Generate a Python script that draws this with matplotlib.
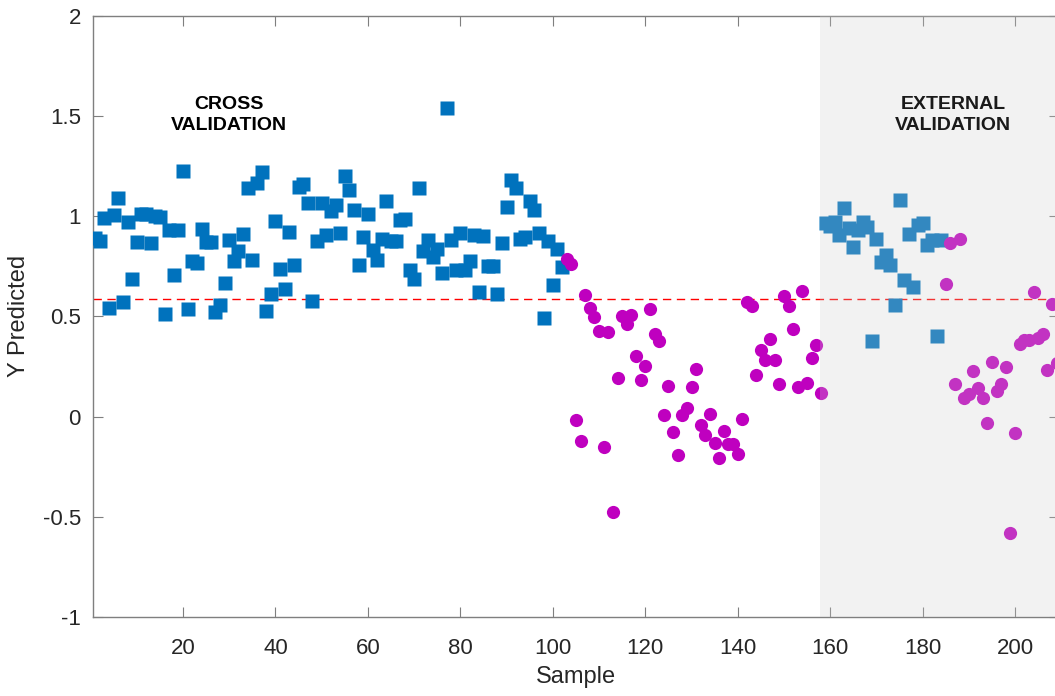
import numpy as np
import matplotlib
matplotlib.use("Agg")
import matplotlib.pyplot as plt

plt.rcParams["font.family"] = ["Liberation Sans", "DejaVu Sans"]

# cross validation: samples 1-102 (blue) and 103-158 (magenta)
cv_blue = [0.89, 0.877, 0.99, 0.543, 1.003, 1.09, 0.571, 0.968, 0.688, 0.868,
           1.01, 1.01, 0.864, 1.0, 0.995, 0.513, 0.928, 0.704, 0.928, 1.227,
           0.535, 0.775, 0.765, 0.937, 0.87, 0.87, 0.521, 0.558, 0.666, 0.88,
           0.774, 0.825, 0.908, 1.141, 0.782, 1.166, 1.222, 0.524, 0.61, 0.975,
           0.737, 0.638, 0.922, 0.757, 1.147, 1.161, 1.064, 0.578, 0.875, 1.066,
           0.903, 1.026, 1.053, 0.913, 1.199, 1.129, 1.031, 0.757, 0.895, 1.008,
           0.83, 0.782, 0.883, 1.076, 0.875, 0.877, 0.982, 0.985, 0.729, 0.688,
           1.139, 0.828, 0.878, 0.795, 0.834, 0.717, 1.538, 0.882, 0.729, 0.917,
           0.729, 0.774, 0.907, 0.621, 0.9, 0.749, 0.749, 0.609, 0.863, 1.043,
           1.182, 1.139, 0.887, 0.897, 1.076, 1.028, 0.917, 0.491, 0.873, 0.658,
           0.837, 0.744]
cv_magenta = [0.787, 0.762, -0.018, -0.123, 0.604, 0.543, 0.496, 0.428, -0.15, 0.42,
              -0.478, 0.191, 0.501, 0.46, 0.505, 0.3, 0.181, 0.252, 0.536, 0.413,
              0.375, 0.006, 0.151, -0.077, -0.193, 0.01, 0.04, 0.147, 0.237, -0.043,
              -0.093, 0.015, -0.13, -0.209, -0.073, -0.135, -0.135, -0.189, -0.01, 0.571,
              0.553, 0.206, 0.33, 0.28, 0.389, 0.284, 0.161, 0.6, 0.55, 0.438,
              0.148, 0.624, 0.168, 0.292, 0.355, 0.115]

# external validation: samples 159-184 (blue) and 185-209 (magenta)
ext_blue = [0.965, 0.95, 0.97, 0.903, 1.041, 0.942, 0.845, 0.932, 0.97, 0.945,
            0.379, 0.887, 0.77, 0.804, 0.754, 0.555, 1.078, 0.683, 0.908, 0.646,
            0.953, 0.965, 0.854, 0.882, 0.402, 0.882]
ext_magenta = [0.663, 0.865, 0.164, 0.887, 0.09, 0.11, 0.227, 0.14, 0.09, -0.032,
               0.272, 0.128, 0.164, 0.247, -0.583, -0.08, 0.364, 0.38, 0.38, 0.621,
               0.392, 0.413, 0.234, 0.56, 0.265]

threshold = 0.584
ext_start = 157.8

blue = "#0072BD"
magenta = "#BF00BF"
text_col = "#262626"

s1 = np.arange(1, len(cv_blue) + 1)
s2 = np.arange(s1[-1] + 1, s1[-1] + 1 + len(cv_magenta))
s3 = np.arange(s2[-1] + 1, s2[-1] + 1 + len(ext_blue))
s4 = np.arange(s3[-1] + 1, s3[-1] + 1 + len(ext_magenta))

fig = plt.figure(figsize=(10.55, 6.96), dpi=100)
ax = fig.add_axes([0.0886, 0.1135, 0.9152, 0.8642])

ms = 9.5
ax.plot(s1, cv_blue, "s", color=blue, ms=ms, mec="none", zorder=3)
ax.plot(s2, cv_magenta, "o", color=magenta, ms=ms, mec="none", zorder=3)
ax.plot(s3, ext_blue, "s", color=blue, ms=ms, mec="none", zorder=3)
ax.plot(s4, ext_magenta, "o", color=magenta, ms=ms, mec="none", zorder=3)

ax.axhline(threshold, color="#FF0000", lw=1.0, ls=(0, (6, 4)), zorder=2)

# grey band over the external validation part (drawn on top, semi-transparent)
ax.axvspan(ext_start, 215, color=(0.8, 0.8, 0.8), alpha=0.25, lw=0, zorder=4)

ax.text(30, 1.505, "CROSS\nVALIDATION", ha="center", va="center",
        fontsize=14, fontweight="bold", color="black", linespacing=1.3, zorder=5)
ax.text(186.6, 1.505, "EXTERNAL\nVALIDATION", ha="center", va="center",
        fontsize=14, fontweight="bold", color="#1a1a1a", linespacing=1.3, zorder=5)

ax.set_xlim(0.63, 209.5)
ax.set_ylim(-1, 2)
ax.set_xticks(np.arange(20, 201, 20))
ax.set_yticks([-1, -0.5, 0, 0.5, 1, 1.5, 2])
ax.set_yticklabels(["-1", "-0.5", "0", "0.5", "1", "1.5", "2"])

ax.tick_params(direction="in", length=7, width=0.8, color="#7f7f7f",
               labelsize=16, labelcolor=text_col, top=True, right=True)
ax.tick_params(axis="x", pad=15)
ax.tick_params(axis="y", pad=9)
for sp in ax.spines.values():
    sp.set_color("#7f7f7f")
    sp.set_linewidth(1.0)

ax.set_xlabel("Sample", fontsize=17, color=text_col, labelpad=5)
ax.set_ylabel("Y Predicted", fontsize=17, color=text_col, labelpad=9)

fig.savefig("out.png", dpi=100)
